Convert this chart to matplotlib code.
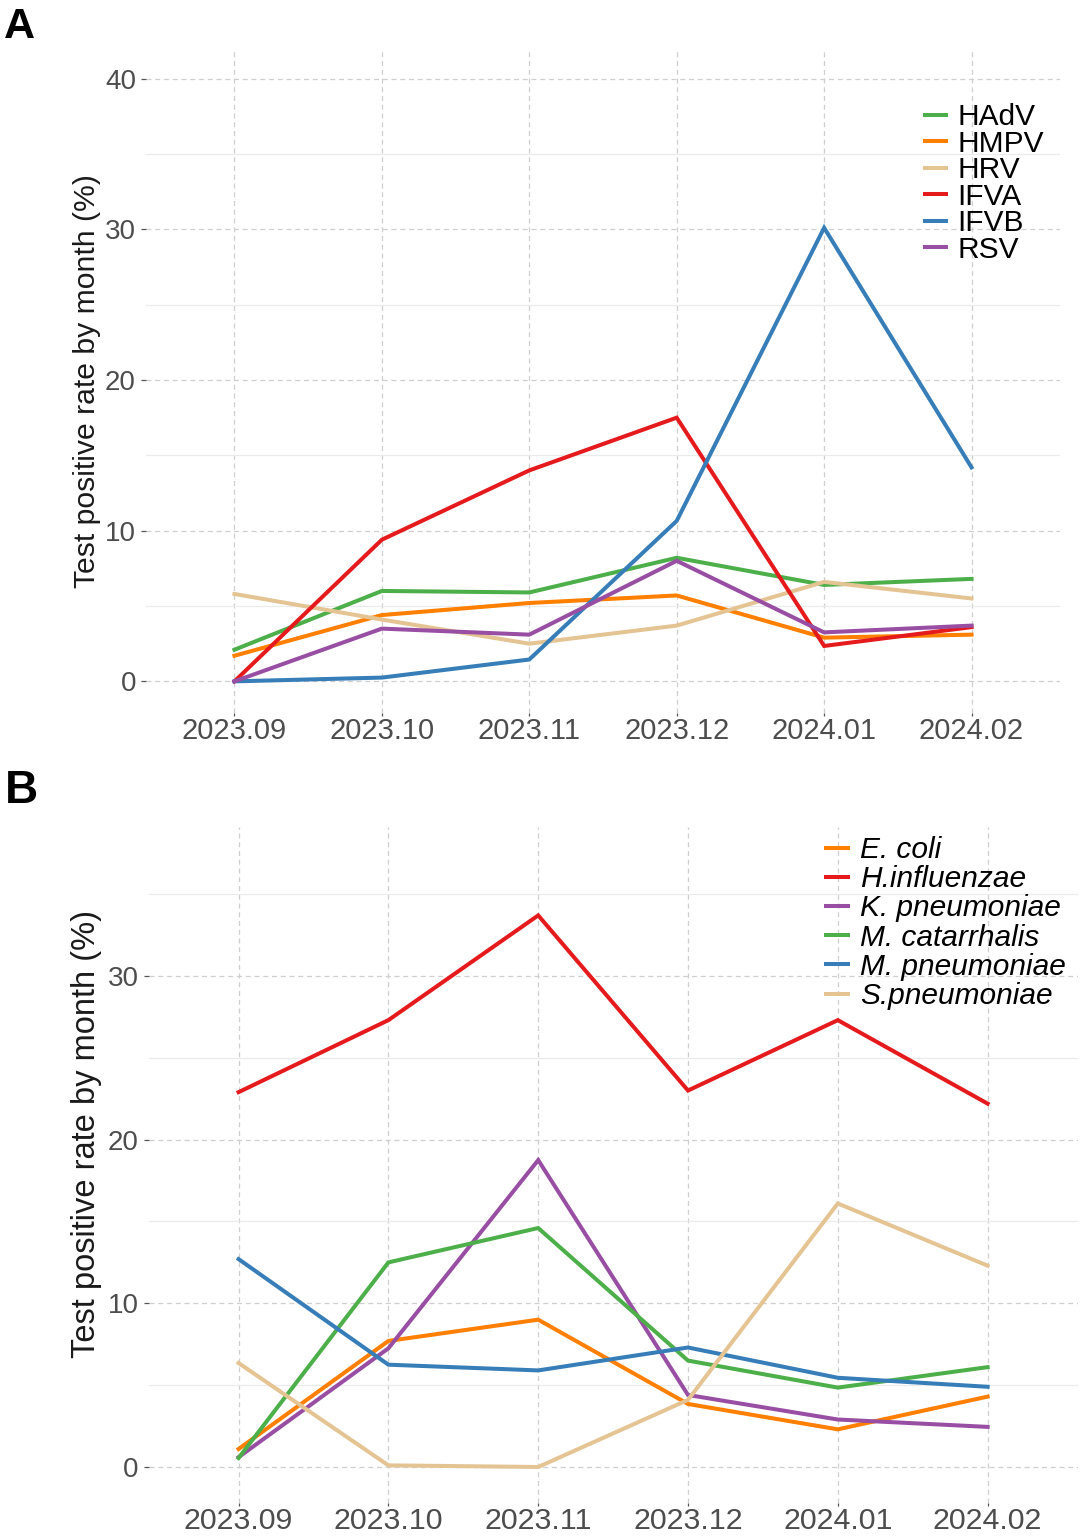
import matplotlib
matplotlib.use("Agg")
import matplotlib.pyplot as plt

plt.rcParams["font.family"] = ["Liberation Sans", "DejaVu Sans"]

months = ["2023.09", "2023.10", "2023.11", "2023.12", "2024.01", "2024.02"]

# panel A - viruses
virus_names = ["HAdV", "HMPV", "HRV", "IFVA", "IFVB", "RSV"]
HAdV = [2.1, 6.0, 5.9, 8.2, 6.4, 6.8]
HMPV = [1.7, 4.4, 5.2, 5.7, 2.9, 3.1]
HRV = [5.8, 4.1, 2.5, 3.7, 6.6, 5.5]
IFVA = [0.0, 9.4, 14.0, 17.5, 2.35, 3.6]
IFVB = [0.0, 0.25, 1.45, 10.65, 30.1, 14.2]
RSV = [0.0, 3.5, 3.1, 8.0, 3.25, 3.7]

# panel B - bacteria
bact_names = ["E. coli", "H.influenzae", "K. pneumoniae", "M. catarrhalis",
              "M. pneumoniae", "S.pneumoniae"]
E_coli = [1.1, 7.7, 9.0, 3.85, 2.3, 4.3]
H_influenzae = [22.9, 27.3, 33.7, 23.0, 27.3, 22.2]
K_pneumoniae = [0.6, 7.25, 18.75, 4.4, 2.9, 2.45]
M_catarrhalis = [0.55, 12.5, 14.6, 6.5, 4.85, 6.1]
M_pneumoniae = [12.7, 6.25, 5.9, 7.3, 5.45, 4.9]
S_pneumoniae = [6.35, 0.1, 0.0, 4.1, 16.1, 12.3]

colors_a = ["#4DAF4A", "#FF7F00", "#E5C494", "#E41A1C", "#377EB8", "#984EA3"]
colors_b = ["#FF7F00", "#E41A1C", "#984EA3", "#4DAF4A", "#377EB8", "#E5C494"]

W, H = 1080, 1538
fig = plt.figure(figsize=(W / 100, H / 100), dpi=100)

x = list(range(len(months)))


def px_axes(left, right, top, bottom):
    return fig.add_axes([left / W, 1 - bottom / H, (right - left) / W, (bottom - top) / H])


def style(ax, ylim, yticks, minor, xsize):
    ax.set_xlim(-0.6, 5.6)
    ax.set_ylim(*ylim)
    ax.set_xticks(x)
    ax.set_xticklabels(months)
    ax.set_yticks(yticks)
    ax.set_yticks(minor, minor=True)
    ax.grid(which="major", color="#CFCFCF", linestyle=(0, (4, 3)), lw=0.9)
    ax.grid(which="minor", axis="y", color="#EBEBEB", lw=0.9)
    ax.set_axisbelow(True)
    for s in ax.spines.values():
        s.set_visible(False)
    ax.tick_params(axis="x", which="major", length=2.5, width=0.9, color="#555555",
                   labelcolor="#4D4D4D", labelsize=xsize, pad=0.5)
    ax.tick_params(axis="y", which="major", length=3.5, width=0.9, color="#555555",
                   labelcolor="#4D4D4D", labelsize=20, pad=3.7)
    ax.tick_params(which="minor", length=0)


# ---------- A
axA = px_axes(146, 1060, 50, 713)
for name, vals, c in zip(virus_names, [HAdV, HMPV, HRV, IFVA, IFVB, RSV], colors_a):
    axA.plot(x, vals, color=c, lw=2.9, label=name, solid_joinstyle="miter")
style(axA, (-2.1, 41.9), [0, 10, 20, 30, 40], [5, 15, 25, 35], 21)
axA.set_ylabel("Test positive rate by month (%)", fontsize=21.7, color="#1A1A1A")
axA.yaxis.set_label_coords(-0.049, 0.5)
axA.legend(loc="upper left", bbox_to_anchor=(925 / W, 1 - 103 / H),
           bbox_transform=fig.transFigure, frameon=False, fontsize=21.5,
           handlelength=0.7, handletextpad=0.38, labelspacing=-0.05,
           borderpad=0, borderaxespad=0)

# ---------- B
axB = px_axes(148.7, 1077.5, 827, 1503)
for name, vals, c in zip(bact_names,
                         [E_coli, H_influenzae, K_pneumoniae, M_catarrhalis, M_pneumoniae, S_pneumoniae],
                         colors_b):
    axB.plot(x, vals, color=c, lw=2.9, label=name, solid_joinstyle="miter")
style(axB, (-2.2, 39.1), [0, 10, 20, 30], [5, 15, 25, 35], 21.9)
axB.set_ylabel("Test positive rate by month (%)", fontsize=23.5, color="#1A1A1A")
axB.yaxis.set_label_coords(-0.0503, 0.546)
axB.legend(loc="upper left", bbox_to_anchor=(826 / W, 1 - 836 / H),
           bbox_transform=fig.transFigure, frameon=False,
           prop={"size": 21.5, "style": "italic"},
           handlelength=0.75, handletextpad=0.4, labelspacing=0.04,
           borderpad=0, borderaxespad=0)

fig.text(4 / W, 1 - 38 / H, "A", fontsize=31, fontweight="bold", va="baseline")
fig.text(5 / W, 1 - 803 / H, "B", fontsize=33, fontweight="bold", va="baseline")

fig.savefig("out.png", dpi=100)
